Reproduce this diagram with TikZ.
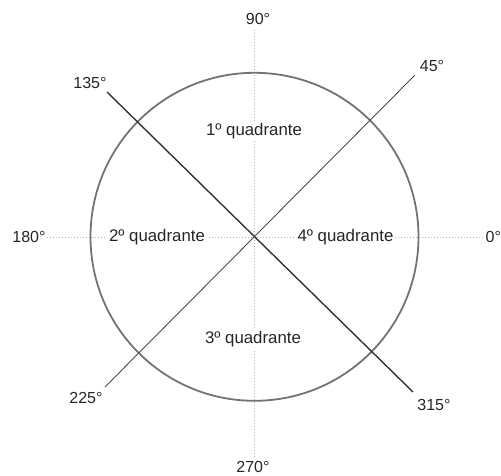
\documentclass[tikz,border=0pt]{standalone}
\usepackage{fontspec}
\setmainfont{Liberation Sans}
\begin{document}
\begin{tikzpicture}[x=1pt,y=-1pt,
  lbl/.style={font=\fontsize{16}{18}\selectfont, inner sep=1.5pt, text=black!85},
  qlbl/.style={lbl, font=\fontsize{16.8}{19}\selectfont, fill=white, inner sep=2pt},
  dotline/.style={draw=black!30, line width=1pt, dash pattern=on 1pt off 2pt},
  ring/.style={draw=black!55, line width=1.8pt},
  darkdiag/.style={draw=black!80, line width=1.4pt},
  lightdiag/.style={draw=black!70, line width=0.9pt}]
\useasboundingbox (0,0) rectangle (501,475);
\clip (0,0) rectangle (501,475);
\coordinate (c) at (254.5,236.8);
% angle labels
\node[lbl] (l90)  at (258,19)  {90°};
\node[lbl] (l45)  at (432,66)  {45°};
\node[lbl] (l135) at (90,83)   {135°};
\node[lbl] (l180) at (29,237)  {180°};
\node[lbl, anchor=west] (l0) at (484,237) {0°};
\node[lbl] (l225) at (86,398)  {225°};
\node[lbl] (l315) at (434,405) {315°};
\node[lbl] (l270) at (253,467) {270°};
% dotted axes
\draw[dotline] (l180.east) -- (l0.west);
\draw[dotline] (254.5,30) coordinate (vt) -- (254.5,457) coordinate (vb);
% circle
\draw[ring] (c) circle (164);
% diagonals
\coordinate (d135) at (107,92);
\coordinate (d315) at (413,392);
\coordinate (d45)  at (415,75);
\coordinate (d225) at (105,387);
\draw[darkdiag] (d135) -- (d315);
\draw[lightdiag] (d45) -- (d225);
% quadrant labels
\node[qlbl] (q1) at (254,131) {1º quadrante};
\node[qlbl] (q2) at (157,237) {2º quadrante};
\node[qlbl] (q4) at (345.5,237) {4º quadrante};
\node[qlbl] (q3) at (253,339) {3º quadrante};
\end{tikzpicture}
\end{document}
